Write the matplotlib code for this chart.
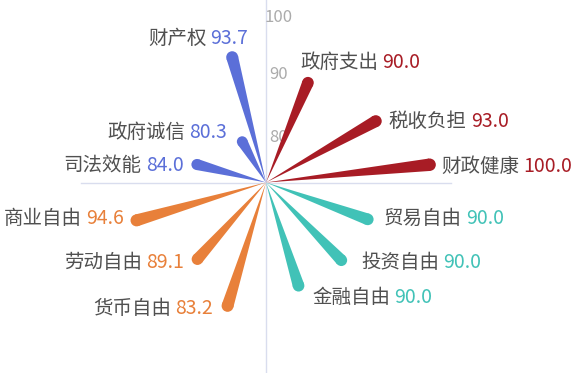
import numpy as np
import matplotlib
matplotlib.use("Agg")
import matplotlib.pyplot as plt
from matplotlib.patches import Polygon
from matplotlib.ticker import NullLocator

plt.rcParams['font.family'] = ['Noto Sans CJK SC', 'DejaVu Sans']

# ---- data ----
names = ['政府支出', '税收负担', '财政健康', '贸易自由', '投资自由', '金融自由',
         '货币自由', '劳动自由', '商业自由', '司法效能', '政府诚信', '财产权']
label_values = [90.0, 93.0, 100.0, 90.0, 90.0, 90.0, 83.2, 89.1, 94.6, 84.0, 80.3, 93.7]
bar_values = [90.0, 93.0, 100.0, 90.0, 90.0, 90.0, 93.6, 89.1, 94.6, 84.0, 80.3, 93.7]
angles_deg = [67.2, 29.2, 6.2, -19.9, -45.9, -72.5, -107.3, -131.8, -163.7, 165.4, 120.2, 105.1]
groups = ['red', 'red', 'red', 'teal', 'teal', 'teal',
          'orange', 'orange', 'orange', 'blue', 'blue', 'blue']
radial_ticks = [80, 90, 100]

# ---- style ----
colors = {'red': '#a81c25', 'teal': '#41c2b7', 'orange': '#e8803a', 'blue': '#5b6fd8'}
name_color = '#505050'
axis_color = '#d9ddee'
tick_color = '#ababab'
# label layout: offset (pixels) from bar end, side of alignment
label_layout = [(-8, 20, 'L'), (13, 0, 'L'), (12, -1.5, 'L'), (16, 1, 'L'), (20, -2, 'L'),
                (14, -12, 'L'), (-15, -2.5, 'R'), (-13.5, -3.5, 'R'), (-13, 2, 'R'),
                (-13.5, -1, 'R'), (-15, 9, 'R'), (16, 18.5, 'R')]
FS = 14
GAP = 4
R_MIN, R_MAX = 73.5, 103.9

fig = plt.figure(figsize=(5.74, 3.73), dpi=100)
W, H = 574, 373
cx, cy, R = 266, 182.5, 185
ax = fig.add_axes([(cx - R) / W, (H - cy - R) / H, 2 * R / W, 2 * R / H], projection='polar')
ax.set_rscale('log')
ax.set_rlim(R_MIN, R_MAX)
ax.set_thetalim(-np.pi, np.pi)
ax.grid(False)
ax.set_xticks([])
ax.set_yticks([])
ax.yaxis.set_major_locator(NullLocator())
ax.yaxis.set_minor_locator(NullLocator())
ax.xaxis.set_minor_locator(NullLocator())
ax.spines['polar'].set_visible(False)
ax.patch.set_alpha(0)

# cross axis lines
for th, rr in [(0, R_MAX), (np.pi / 2, R_MAX), (np.pi, R_MAX), (-np.pi / 2, 104.8)]:
    ax.plot([th, th], [R_MIN, rr], color=axis_color, lw=1.0, clip_on=False, zorder=1)

for t in radial_ticks:
    ax.annotate(str(t), xy=(np.pi / 2, t), xytext=(13, 0), textcoords='offset pixels',
                ha='center', va='center', fontsize=12, color=tick_color, zorder=2)

fig.canvas.draw()
trans = ax.transData
origin = trans.transform((0, R_MIN))

for i, (nm, lv, bv, ang, g) in enumerate(zip(names, label_values, bar_values, angles_deg, groups)):
    th = np.deg2rad(ang)
    end = trans.transform((th, bv))
    rpx = np.hypot(*(end - origin))
    w = 10 + 0.015 * rpx
    dth = (w / 2) / rpx
    poly = Polygon([(th, R_MIN), (th - dth, bv), (th + dth, bv)], closed=True,
                   transform=trans, facecolor=colors[g], edgecolor='none', zorder=3)
    ax.add_patch(poly)
    ax.scatter([th], [bv], s=(w * 0.72) ** 2, color=colors[g], edgecolors='none',
               zorder=3, clip_on=False)
    dx, dy, side = label_layout[i]
    vtxt = f'{lv:.1f}'
    if side == 'L':
        t1 = ax.annotate(nm, xy=(th, bv), xytext=(dx, dy), textcoords='offset pixels',
                         ha='left', va='center', fontsize=FS, color=name_color, zorder=4)
        ax.annotate(vtxt, xy=(1, 0.5), xycoords=t1, xytext=(GAP, 0), textcoords='offset pixels',
                    ha='left', va='center', fontsize=FS, color=colors[g], zorder=4)
    else:
        t1 = ax.annotate(vtxt, xy=(th, bv), xytext=(dx, dy), textcoords='offset pixels',
                         ha='right', va='center', fontsize=FS, color=colors[g], zorder=4)
        ax.annotate(nm, xy=(0, 0.5), xycoords=t1, xytext=(-GAP, 0), textcoords='offset pixels',
                    ha='right', va='center', fontsize=FS, color=name_color, zorder=4)

fig.savefig('out.png', dpi=100, facecolor='white')
